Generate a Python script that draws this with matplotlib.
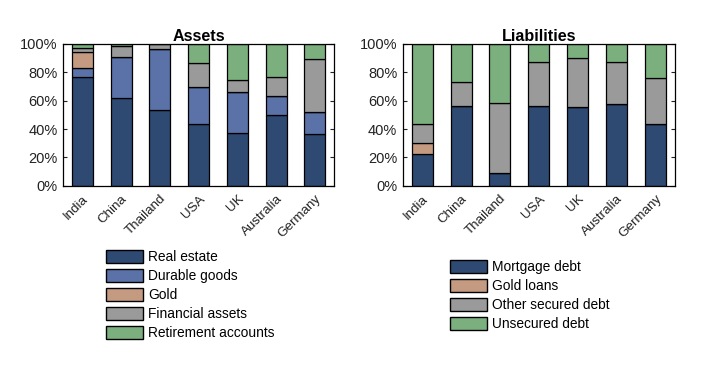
import numpy as np
import matplotlib
matplotlib.use("Agg")
import matplotlib.pyplot as plt
from matplotlib.patches import Patch
from matplotlib.ticker import PercentFormatter

countries = ["India", "China", "Thailand", "USA", "UK", "Australia", "Germany"]

# asset shares (%)
realEstate = [76.7, 61.9, 53.4, 43.5, 37.2, 49.9, 36.5]
durableGoods = [6.1, 28.9, 43.1, 26.1, 28.7, 13.4, 15.5]
gold = [11.6, 0.0, 0.0, 0.0, 0.0, 0.0, 0.0]
financialAssets = [2.6, 7.6, 3.5, 17.0, 8.7, 13.2, 37.4]
retirement = [3.0, 1.6, 0.0, 13.4, 25.4, 23.5, 10.6]

# liability shares (%)
mortgageDebt = [22.4, 56.2, 8.9, 56.2, 55.5, 57.6, 43.5]
goldLoans = [7.7, 0.0, 0.0, 0.0, 0.0, 0.0, 0.0]
otherSecured = [13.4, 17.0, 49.5, 31.1, 34.6, 29.7, 32.5]
unsecuredDebt = [56.5, 26.8, 41.6, 12.7, 9.9, 12.7, 24.0]

navy = "#2e4a72"
blue = "#5a72a8"
tan = "#c49a80"
grey = "#9a9a9a"
green = "#7bb07e"

assetSeries = [("Real estate", realEstate, navy), ("Durable goods", durableGoods, blue),
               ("Gold", gold, tan), ("Financial assets", financialAssets, grey),
               ("Retirement accounts", retirement, green)]
liabSeries = [("Mortgage debt", mortgageDebt, navy), ("Gold loans", goldLoans, tan),
              ("Other secured debt", otherSecured, grey), ("Unsecured debt", unsecuredDebt, green)]

plt.rcParams["font.family"] = ["Liberation Sans", "DejaVu Sans"]
plt.rcParams["font.size"] = 10.5


def stackedBars(ax, series, title):
    x = np.arange(len(countries))
    bottom = np.zeros(len(countries))
    for name, vals, col in series:
        vals = np.array(vals)
        ax.bar(x, vals, 0.54, bottom=bottom, color=col, edgecolor="black", linewidth=0.9)
        bottom += vals
    ax.set_xlim(-0.5, 6.5)
    ax.set_ylim(0, 100)
    ax.set_yticks(range(0, 101, 20))
    ax.yaxis.set_major_formatter(PercentFormatter(decimals=0))
    ax.set_xticks(x)
    ax.set_xticklabels(countries, rotation=45, ha="right", rotation_mode="anchor", fontsize=9.6)
    ax.tick_params(axis="y", direction="in", left=True, right=True, length=3,
                   colors="#222222", labelcolor="#222222", labelsize=10.5, pad=4)
    ax.tick_params(axis="x", length=0, pad=5, labelcolor="#222222")
    for s in ax.spines.values():
        s.set_linewidth(0.9)
    ax.set_title(title, fontweight="bold", fontsize=11.6, pad=2)


fig = plt.figure(figsize=(7.08, 3.68), dpi=100)
ax1 = fig.add_axes([0.089, 0.495, 0.383, 0.386])
ax2 = fig.add_axes([0.569, 0.495, 0.384, 0.386])
stackedBars(ax1, assetSeries, "Assets")
stackedBars(ax2, liabSeries, "Liabilities")

legKw = dict(frameon=False, loc="upper left", borderpad=0, borderaxespad=0,
             handlelength=2.65, handleheight=1.05, labelspacing=0.35, handletextpad=0.38, fontsize=9.9)
fig.legend(handles=[Patch(facecolor=c, edgecolor="black", label=n) for n, _, c in assetSeries],
           bbox_to_anchor=(0.150, 0.320), **legKw)
fig.legend(handles=[Patch(facecolor=c, edgecolor="black", label=n) for n, _, c in liabSeries],
           bbox_to_anchor=(0.636, 0.293), **legKw)

fig.savefig("out.png", dpi=100)
